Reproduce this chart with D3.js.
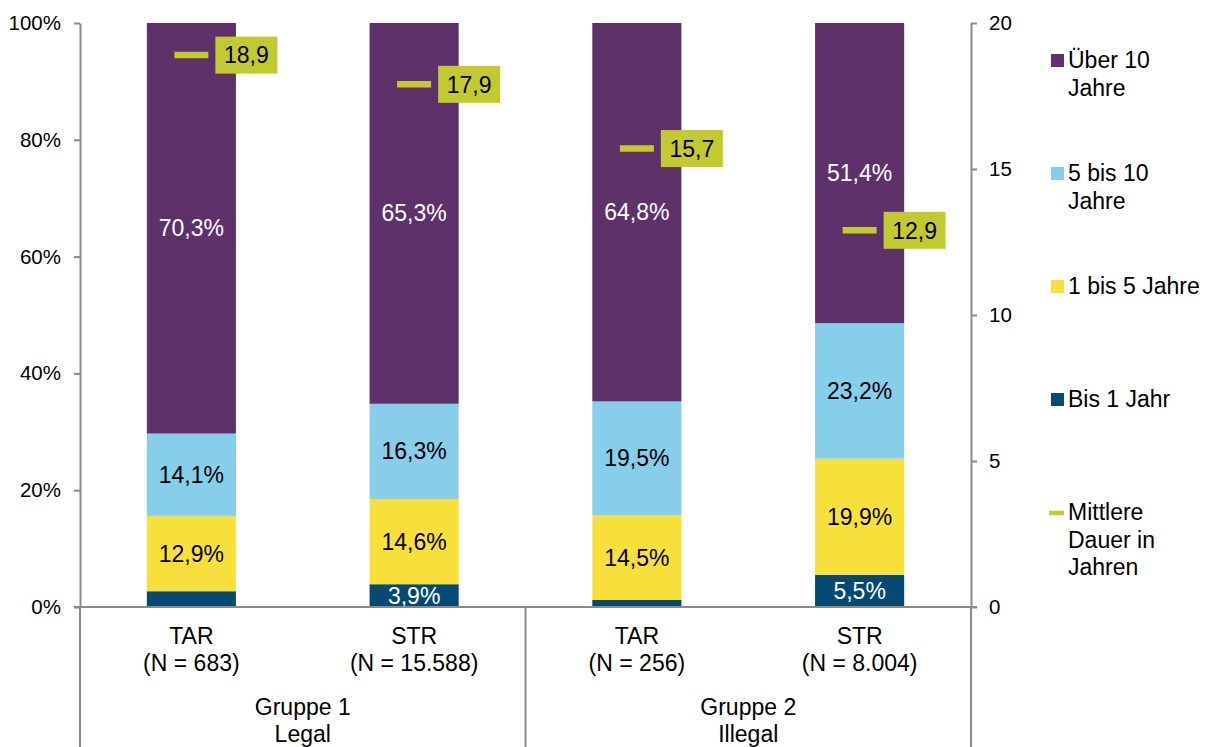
<!DOCTYPE html>
<html>
<head>
<meta charset="utf-8">
<script src="https://cdn.jsdelivr.net/npm/d3@7"></script>
<style>
  html, body { margin: 0; padding: 0; background: #fff; }
  svg { display: block; font-family: "Liberation Sans", Arial, sans-serif; }
</style>
</head>
<body>
<svg id="chart" width="1212" height="747"></svg>
<script>
// Categories and group labels
const catNames = ["TAR", "STR", "TAR", "STR"];
const catSizes = ["(N = 683)", "(N = 15.588)", "(N = 256)", "(N = 8.004)"];
const groupLines = [["Gruppe 1", "Legal"], ["Gruppe 2", "Illegal"]];

// Shares (%) per duration class
const bis1Jahr   = [2.7, 3.9, 1.2, 5.5];
const bis5Jahre  = [12.9, 14.6, 14.5, 19.9];
const bis10Jahre = [14.1, 16.3, 19.5, 23.2];
const ueber10    = [70.3, 65.3, 64.8, 51.4];

// Mean duration in years (right axis)
const meanDuration = [18.9, 17.9, 15.7, 12.9];

// Axis ticks
const leftTicks  = [0, 20, 40, 60, 80, 100];
const rightTicks = [0, 5, 10, 15, 20];

const seriesKeys   = ["bis1", "bis5", "bis10", "ueber10"];
const seriesColor  = { bis1: "#064a73", bis5: "#f8e03c", bis10: "#87ceeb", ueber10: "#5e316b" };
const labelColor   = { bis1: "#ffffff", bis5: "#000000", bis10: "#000000", ueber10: "#ffffff" };
const meanColor = "#c3ca30";
const axisColor = "#8a8a8a";

const rows = catNames.map((c, i) => ({
  idx: i,
  bis1: bis1Jahr[i], bis5: bis5Jahre[i], bis10: bis10Jahre[i], ueber10: ueber10[i]
}));

const svg = d3.select("#chart");
const plotLeft = 80, plotRight = 971, plotTop = 23, plotBase = 607, plotBottom = 747;

const x = d3.scaleBand().domain(d3.range(catNames.length)).range([plotLeft, plotRight])
  .paddingInner(0.6).paddingOuter(0.3);
const y = d3.scaleLinear().domain([0, 100]).range([plotBase, plotTop]);
const y2 = d3.scaleLinear().domain([0, 20]).range([plotBase, plotTop]);

const locale = d3.formatLocale({ decimal: ",", thousands: ".", grouping: [3], currency: ["", "€"] });
const f1 = locale.format(".1f");

const stack = d3.stack().keys(seriesKeys)(rows);

// Stacked bars
const layers = svg.append("g").selectAll("g").data(stack).join("g")
  .attr("fill", d => seriesColor[d.key]);
layers.selectAll("rect").data(d => d).join("rect")
  .attr("x", d => x(d.data.idx))
  .attr("width", x.bandwidth())
  .attr("y", d => y(Math.min(d[1], 100)))
  .attr("height", d => y(d[0]) - y(Math.min(d[1], 100)));

// Segment value labels
const labelG = svg.append("g").attr("font-size", 23).attr("text-anchor", "middle");
stack.forEach(layer => {
  layer.forEach(d => {
    const v = d.data[layer.key];
    if (v < 3) return;
    labelG.append("text")
      .attr("x", x(d.data.idx) + x.bandwidth() / 2)
      .attr("y", (y(d[0]) + y(Math.min(d[1], 100))) / 2)
      .attr("dy", "0.35em")
      .attr("fill", labelColor[layer.key])
      .text(f1(v) + "%");
  });
});

// Mean duration markers with boxed labels
const meanG = svg.append("g");
meanDuration.forEach((m, i) => {
  const cx = x(i) + x.bandwidth() / 2;
  const yy = y2(m);
  meanG.append("line")
    .attr("x1", cx - 17).attr("x2", cx + 17)
    .attr("y1", yy).attr("y2", yy)
    .attr("stroke", meanColor).attr("stroke-width", 6.5);
  const bx = cx + 24;
  meanG.append("rect")
    .attr("x", bx).attr("y", yy - 18.5)
    .attr("width", 62).attr("height", 37)
    .attr("fill", meanColor);
  meanG.append("text")
    .attr("x", bx + 31).attr("y", yy)
    .attr("dy", "0.36em")
    .attr("text-anchor", "middle")
    .attr("font-size", 23)
    .attr("fill", "#000")
    .text(f1(m));
});

// Left axis
const gl = svg.append("g").attr("transform", `translate(${plotLeft},0)`)
  .call(d3.axisLeft(y).tickValues(leftTicks).tickFormat(d => d + "%").tickSize(6).tickSizeOuter(0).tickPadding(13));
// Right axis
const gr = svg.append("g").attr("transform", `translate(${plotRight},0)`)
  .call(d3.axisRight(y2).tickValues(rightTicks).tickFormat(d => d).tickSize(6).tickSizeOuter(0).tickPadding(12));
[gl, gr].forEach(g => {
  g.select(".domain").attr("stroke", axisColor).attr("stroke-width", 2);
  g.selectAll(".tick line").attr("stroke", axisColor).attr("stroke-width", 2);
  g.selectAll(".tick text").attr("font-size", 20.5).attr("fill", "#000")
    .attr("font-family", "Liberation Sans, Arial, sans-serif");
});

// Category axis lines and group separators
const frame = svg.append("g").attr("stroke", axisColor).attr("stroke-width", 2);
frame.append("line").attr("x1", plotLeft - 6).attr("x2", plotRight + 6).attr("y1", plotBase).attr("y2", plotBase);
frame.append("line").attr("x1", plotLeft).attr("x2", plotLeft).attr("y1", plotBase).attr("y2", plotBottom);
frame.append("line").attr("x1", plotRight).attr("x2", plotRight).attr("y1", plotBase).attr("y2", plotBottom);
const mid = (x(1) + x.bandwidth() + x(2)) / 2;
frame.append("line").attr("x1", mid).attr("x2", mid).attr("y1", plotBase).attr("y2", plotBottom);

// Category labels
const catG = svg.append("g").attr("font-size", 23).attr("text-anchor", "middle").attr("fill", "#000");
catNames.forEach((c, i) => {
  const cx = x(i) + x.bandwidth() / 2;
  catG.append("text").attr("x", cx).attr("y", 644).text(c);
  catG.append("text").attr("x", cx).attr("y", 671).text(catSizes[i]);
});
const groupCenters = [(plotLeft + mid) / 2, (mid + plotRight) / 2];
groupLines.forEach((lines, g) => {
  lines.forEach((t, k) => {
    catG.append("text").attr("x", groupCenters[g]).attr("y", 715 + k * 27).text(t);
  });
});

// Legend
const legendItems = [
  { key: "ueber10", lines: ["Über 10", "Jahre"] },
  { key: "bis10",   lines: ["5 bis 10", "Jahre"] },
  { key: "bis5",    lines: ["1 bis 5 Jahre"] },
  { key: "bis1",    lines: ["Bis 1 Jahr"] },
  { key: "mean",    lines: ["Mittlere", "Dauer in", "Jahren"] }
];
const lg = svg.append("g").attr("font-size", 23).attr("fill", "#000");
legendItems.forEach((it, i) => {
  const baseY = 68 + i * 113;
  if (it.key === "mean") {
    lg.append("line").attr("x1", 1049).attr("x2", 1064)
      .attr("y1", baseY - 7).attr("y2", baseY - 7)
      .attr("stroke", meanColor).attr("stroke-width", 4.5);
  } else {
    lg.append("rect").attr("x", 1051).attr("y", baseY - 14)
      .attr("width", 13).attr("height", 13).attr("fill", seriesColor[it.key]);
  }
  it.lines.forEach((t, k) => {
    lg.append("text").attr("x", 1068).attr("y", baseY + k * 27.5).text(t);
  });
});
</script>
</body>
</html>
